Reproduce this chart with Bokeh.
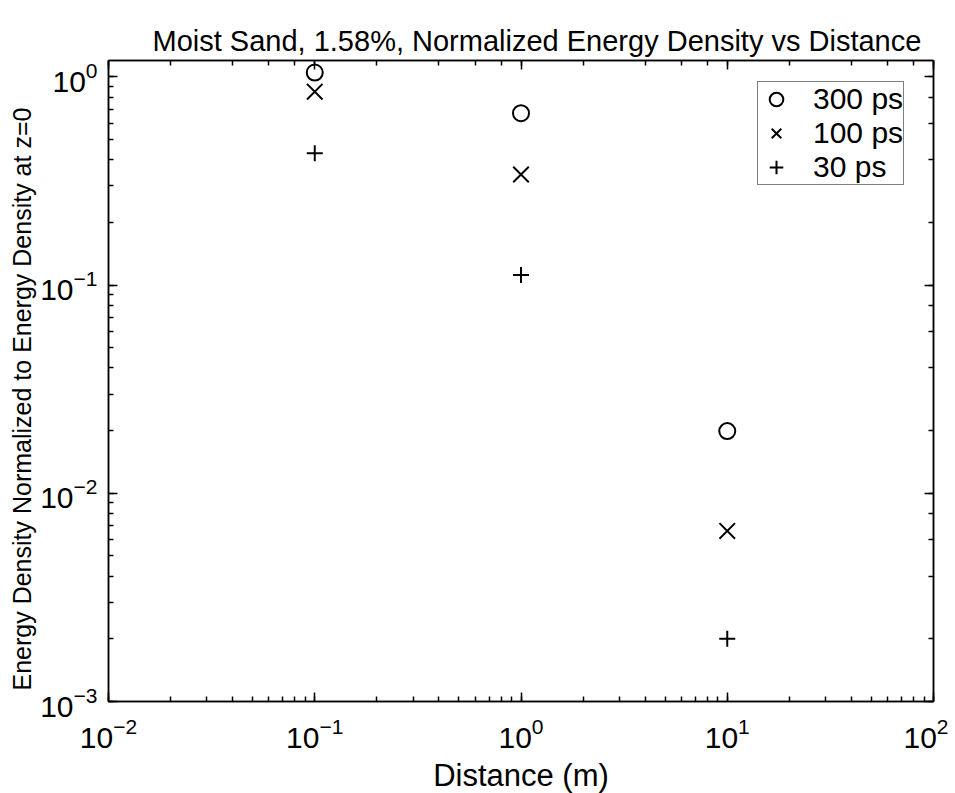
from bokeh.plotting import figure
from bokeh.models import LogAxis, Legend, LegendItem, Range1d, Title
from bokeh.embed import file_html
from bokeh.resources import INLINE

# Data
distance = [0.1, 1.0, 10.0]
e_300ps = [1.05, 0.67, 0.0199]
e_100ps = [0.85, 0.34, 0.0066]
e_30ps = [0.43, 0.112, 0.0020]
series_labels = ["300 ps", "100 ps", "30 ps"]

FONT = "Liberation Sans"

p = figure(
    x_axis_type="log", y_axis_type="log",
    x_range=Range1d(1e-2, 1e2), y_range=Range1d(1e-3, 1.2),
    frame_width=825, frame_height=641,
    min_border_left=108, min_border_right=15,
    min_border_top=60, min_border_bottom=89,
    output_backend="svg", toolbar_location=None,
)
p.background_fill_color = "white"
p.border_fill_color = "white"
p.outline_line_color = "black"
p.outline_line_width = 1.5
p.xgrid.visible = False
p.ygrid.visible = False

def style_axis(ax, labels=True):
    ax.axis_line_color = "black"
    ax.axis_line_width = 1.5
    ax.major_tick_in = 9
    ax.major_tick_out = 0
    ax.minor_tick_in = 5
    ax.minor_tick_out = 0
    ax.major_tick_line_color = "black"
    ax.minor_tick_line_color = "black"
    ax.major_tick_line_width = 1.5
    ax.minor_tick_line_width = 1.5
    if labels:
        ax.major_label_text_font = FONT
        ax.major_label_text_font_size = "30px"
        ax.major_label_text_color = "black"
        ax.axis_label_text_font = FONT
        ax.axis_label_text_font_style = "normal"
        ax.axis_label_text_color = "black"
    else:
        ax.major_label_text_font_size = "1px"
        ax.major_label_text_alpha = 0
        ax.major_label_standoff = 0

xa = p.xaxis[0]
ya = p.yaxis[0]
style_axis(xa)
style_axis(ya)
xa.axis_label = "Distance (m)"
xa.axis_label_text_font_size = "31px"
xa.major_label_standoff = 16
ya.major_label_standoff = 11
xa.axis_label_standoff = 7

top = LogAxis()
right = LogAxis()
style_axis(top, labels=False)
style_axis(right, labels=False)
p.add_layout(top, "above")
p.add_layout(right, "right")

title = Title(text="Moist Sand, 1.58%, Normalized Energy Density vs Distance",
              text_font=FONT, text_font_size="29px", text_font_style="normal",
              text_color="black", align="left", offset=44, standoff=7)
p.add_layout(title, "above")

ylab = Title(text="Energy Density Normalized to Energy Density at z=0",
             text_font=FONT, text_font_size="25px", text_font_style="normal",
             text_color="black", align="left", offset=11, standoff=4)
p.add_layout(ylab, "left")

r300 = p.scatter(distance, e_300ps, marker="circle", size=16, fill_color=None,
                 line_color="black", line_width=2)
r100 = p.scatter(distance, e_100ps, marker="x", size=22,
                 line_color="black", line_width=2)
r30 = p.scatter(distance, e_30ps, marker="cross", size=16,
                line_color="black", line_width=2)

legend = Legend(
    items=[LegendItem(label=series_labels[0], renderers=[r300]),
           LegendItem(label=series_labels[1], renderers=[r100]),
           LegendItem(label=series_labels[2], renderers=[r30])],
    location=(649, 516),
)
legend.label_text_font = FONT
legend.label_text_font_size = "30px"
legend.label_text_color = "black"
legend.label_standoff = 19
legend.glyph_width = 36
legend.glyph_height = 34
legend.padding = 0
legend.spacing = 0
legend.margin = 0
legend.border_line_color = "black"
legend.border_line_width = 1.5
legend.background_fill_alpha = 1
p.add_layout(legend)

open("out.html", "w").write(file_html(p, INLINE))
